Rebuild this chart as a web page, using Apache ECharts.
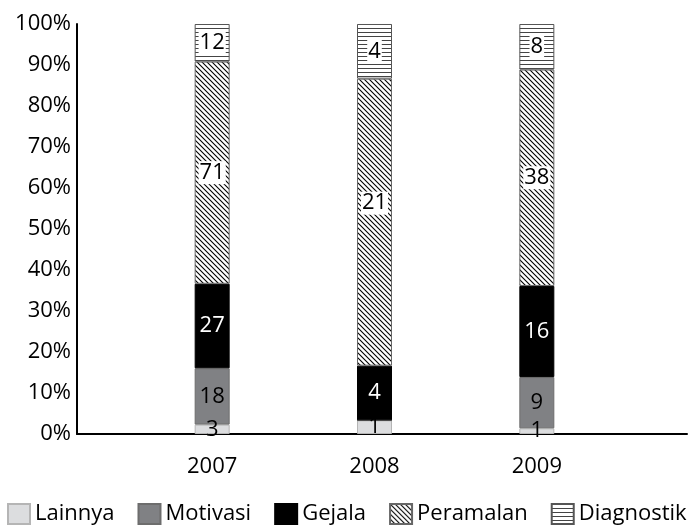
<!DOCTYPE html>
<html>
<head>
<meta charset="utf-8">
<script src="https://cdn.jsdelivr.net/npm/echarts@6/dist/echarts.min.js"></script>
<style>
  html, body { margin: 0; padding: 0; background: #fff; }
  #chart { width: 688px; height: 525px; }
</style>
</head>
<body>
<div id="chart"></div>
<script>
// Counts per year for each category (labels show counts, bars show share of the year's total)
const years = ['2007', '2008', '2009'];
const lainnya    = [3, 1, 1];
const motivasi   = [18, 0, 9];
const gejala     = [27, 4, 16];
const peramalan  = [71, 21, 38];
const diagnostik = [12, 4, 8];

const FONT = '"Open Sans", "Noto Sans", sans-serif';
const FS = 22;

// Tiled fill patterns
function diagonalTile() {
  const s = 5;
  const c = document.createElement('canvas');
  c.width = s; c.height = s;
  const g = c.getContext('2d');
  g.fillStyle = '#fff';
  g.fillRect(0, 0, s, s);
  g.strokeStyle = '#000';
  g.lineWidth = 1.1;
  g.beginPath();
  g.moveTo(-1, -1); g.lineTo(s + 1, s + 1);
  g.moveTo(-1, s - 1); g.lineTo(1, s + 1);
  g.moveTo(s - 1, -1); g.lineTo(s + 1, 1);
  g.stroke();
  return c;
}
function horizontalTile() {
  const c = document.createElement('canvas');
  c.width = 4; c.height = 4;
  const g = c.getContext('2d');
  g.fillStyle = '#fff';
  g.fillRect(0, 0, 4, 4);
  g.fillStyle = '#444';
  g.fillRect(0, 0, 4, 1);
  return c;
}

const groups = [
  { name: 'Lainnya',    counts: lainnya,    color: '#dcdddf', border: '#b5b5b5', text: '#000', bg: null },
  { name: 'Motivasi',   counts: motivasi,   color: '#808184', border: '#6d6d6d', text: '#000', bg: null },
  { name: 'Gejala',     counts: gejala,     color: '#000000', border: '#000',    text: '#fff', bg: null },
  { name: 'Peramalan',  counts: peramalan,  color: { image: diagonalTile(),   repeat: 'repeat' }, border: '#666', text: '#000', bg: '#fff' },
  { name: 'Diagnostik', counts: diagnostik, color: { image: horizontalTile(), repeat: 'repeat' }, border: '#555', text: '#000', bg: '#fff' }
];

const totals = years.map((_, i) => groups.reduce((s, g) => s + g.counts[i], 0));

const series = groups.map(g => ({
  name: g.name,
  type: 'bar',
  stack: 'share',
  xAxisIndex: 1,
  yAxisIndex: 1,
  barWidth: 35,
  itemStyle: { color: g.color, borderColor: g.border, borderWidth: 1 },
  label: {
    show: true,
    position: 'inside',
    fontFamily: FONT,
    fontSize: FS,
    lineHeight: 23,
    color: g.text,
    backgroundColor: g.bg || 'transparent',
    padding: g.bg ? [0, 1] : 0,
    formatter: p => (g.counts[p.dataIndex] ? String(g.counts[p.dataIndex]) : '')
  },
  data: g.counts.map((v, i) => {
    const item = { value: v / totals[i] * 100 };
    // the 2008 forecast label sits a little above the segment centre
    if (g.name === 'Peramalan' && i === 1) item.label = { offset: [0, -19] };
    return item;
  })
}));

const chart = echarts.init(document.getElementById('chart'), null, { renderer: 'canvas' });
chart.setOption({
  backgroundColor: '#fff',
  animation: false,
  textStyle: { fontFamily: FONT },
  legend: {
    left: 7,
    top: 503,
    width: 681,
    padding: 0,
    itemWidth: 22,
    itemHeight: 20,
    itemGap: 23,
    icon: 'rect',
    textStyle: { fontFamily: FONT, fontSize: FS, color: '#000' },
    data: groups.map(g => g.name)
  },
  grid: [
    { left: 77, right: 1, top: 24, bottom: 91 },
    { left: 131, width: 487, top: 24, bottom: 91 }
  ],
  xAxis: [
    {
      gridIndex: 0, type: 'value', min: 0, max: 1,
      axisLine: { show: true, lineStyle: { color: '#000', width: 2 } },
      axisTick: { show: false }, axisLabel: { show: false }, splitLine: { show: false }
    },
    {
      gridIndex: 1, type: 'category', data: years,
      axisLine: { show: false }, axisTick: { show: false },
      axisLabel: { fontFamily: FONT, fontSize: FS, color: '#000', margin: 22 }
    }
  ],
  yAxis: [
    {
      gridIndex: 0, type: 'value', min: 0, max: 100, interval: 10,
      axisLine: { show: true, lineStyle: { color: '#000', width: 2 } },
      axisTick: { show: false }, splitLine: { show: false },
      axisLabel: { formatter: '{value}%', fontFamily: FONT, fontSize: FS, color: '#000', margin: 6 }
    },
    {
      gridIndex: 1, type: 'value', min: 0, max: 100, show: false
    }
  ],
  series: series
});
</script>
</body>
</html>
